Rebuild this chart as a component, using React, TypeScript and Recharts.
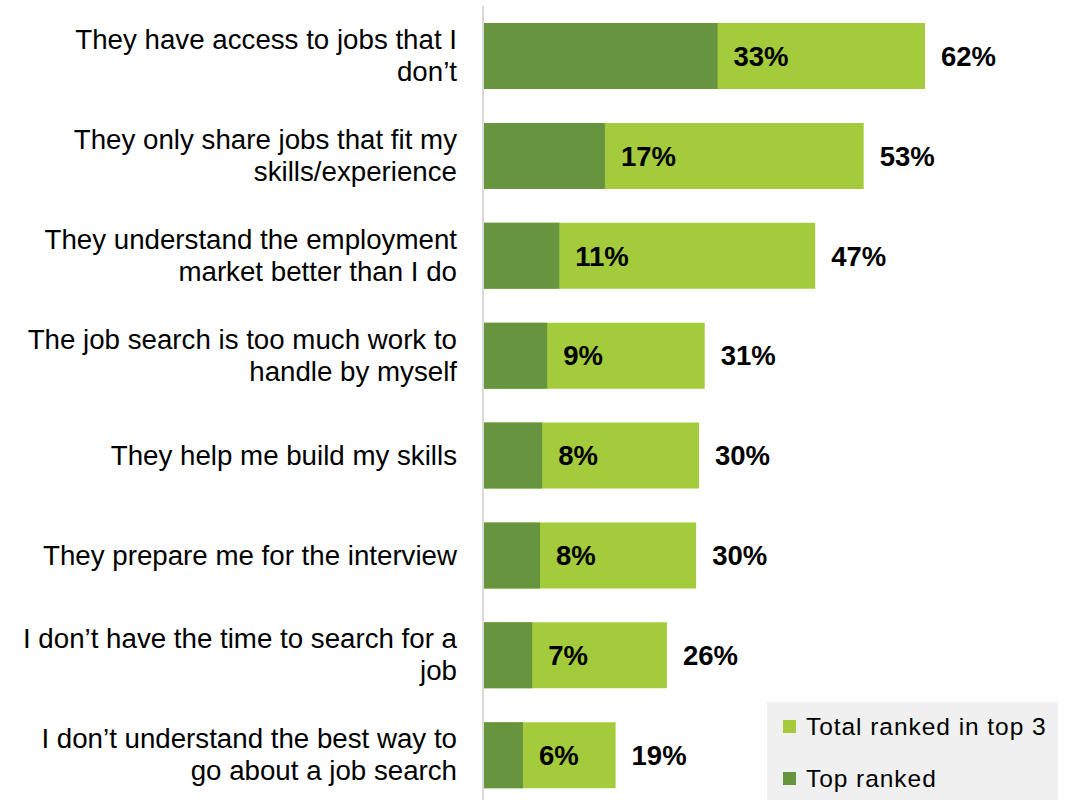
import React from "react";
import { BarChart, Bar, XAxis, YAxis, LabelList, Legend } from "recharts";

const categories = [
  "They have access to jobs that I\ndon’t",
  "They only share jobs that fit my\nskills/experience",
  "They understand the employment\nmarket better than I do",
  "The job search is too much work to\nhandle by myself",
  "They help me build my skills",
  "They prepare me for the interview",
  "I don’t have the time to search for a\njob",
  "I don’t understand the best way to\ngo about a job search",
];
const totalTop3 = [62, 53.4, 46.6, 31.1, 30.3, 29.9, 25.8, 18.6];
const topRanked = [32.9, 17.1, 10.7, 9.0, 8.3, 8.0, 6.9, 5.6];
const seriesNames = ["Total ranked in top 3", "Top ranked"];

const data = categories.map((name, i) => ({
  name,
  total: totalTop3[i],
  top: topRanked[i],
}));

const FONT = '"Liberation Sans", Arial, sans-serif';
const LIGHT = "#a3cb3b";
const DARK = "#67953f";

const Tick = (props: any) => {
  const { x, y, payload } = props;
  const lines: string[] = String(payload.value).split("\n");
  const lh = 32;
  const first = lines.length === 1 ? 9.5 : -7;
  return (
    <text x={x} y={y} textAnchor="end" fontSize={27.7} fontFamily={FONT} fill="#000">
      {lines.map((l, i) => (
        <tspan key={i} x={x} y={y + first + i * lh}>
          {l}
        </tspan>
      ))}
    </text>
  );
};

const fmt = (v: any) => `${Math.round(Number(v))}%`;

const LegendContent = (props: any) => {
  const payload = [...(props.payload || [])].sort(
    (a: any, b: any) => seriesNames.indexOf(a.value) - seriesNames.indexOf(b.value)
  );
  return (
    <div
      style={{
        position: "absolute",
        left: 0,
        top: 0,
        width: 291,
        height: 100,
        background: "#f0f0f0",
        fontFamily: FONT,
      }}
    >
      {payload.map((p: any, i: number) => (
        <div
          key={i}
          style={{
            position: "absolute",
            left: 16,
            top: 18 + i * 52,
            height: 13,
            display: "flex",
            alignItems: "center",
            whiteSpace: "nowrap",
          }}
        >
          <div style={{ width: 13, height: 13, background: p.color, marginRight: 10 }} />
          <span style={{ fontSize: 24.5, letterSpacing: 0.95, color: "#000" }}>{p.value}</span>
        </div>
      ))}
    </div>
  );
};

export default function App() {
  return (
    <div
      style={{
        position: "absolute",
        left: 0,
        top: 0,
        width: 1069,
        height: 800,
        overflow: "hidden",
        background: "#fff",
      }}
    >
      <BarChart
        width={1069}
        height={805}
        data={data}
        layout="vertical"
        margin={{ top: 6, right: 87, bottom: 0, left: 0 }}
        barSize={66}
        barGap={-66}
      >
        <XAxis type="number" domain={[0, 70]} hide />
        <YAxis
          type="category"
          dataKey="name"
          width={483}
          axisLine={{ stroke: "#d9d9d9", strokeWidth: 2 }}
          tickLine={false}
          tickSize={0}
          tickMargin={26}
          tick={<Tick />}
          interval={0}
        />
        <Legend
          content={<LegendContent />}
          wrapperStyle={{
            position: "absolute",
            left: 767,
            top: 702,
            width: 0,
            height: 0,
            overflow: "visible",
          }}
        />
        <Bar dataKey="total" name={seriesNames[0]} fill={LIGHT} isAnimationActive={false}>
          <LabelList
            dataKey="total"
            position="right"
            offset={16}
            formatter={fmt}
            style={{ fontSize: 27.5, fontWeight: "bold", fontFamily: FONT, fill: "#000" }}
          />
        </Bar>
        <Bar dataKey="top" name={seriesNames[1]} fill={DARK} isAnimationActive={false}>
          <LabelList
            dataKey="top"
            position="right"
            offset={16}
            formatter={fmt}
            style={{ fontSize: 27.5, fontWeight: "bold", fontFamily: FONT, fill: "#000" }}
          />
        </Bar>
      </BarChart>
    </div>
  );
}
